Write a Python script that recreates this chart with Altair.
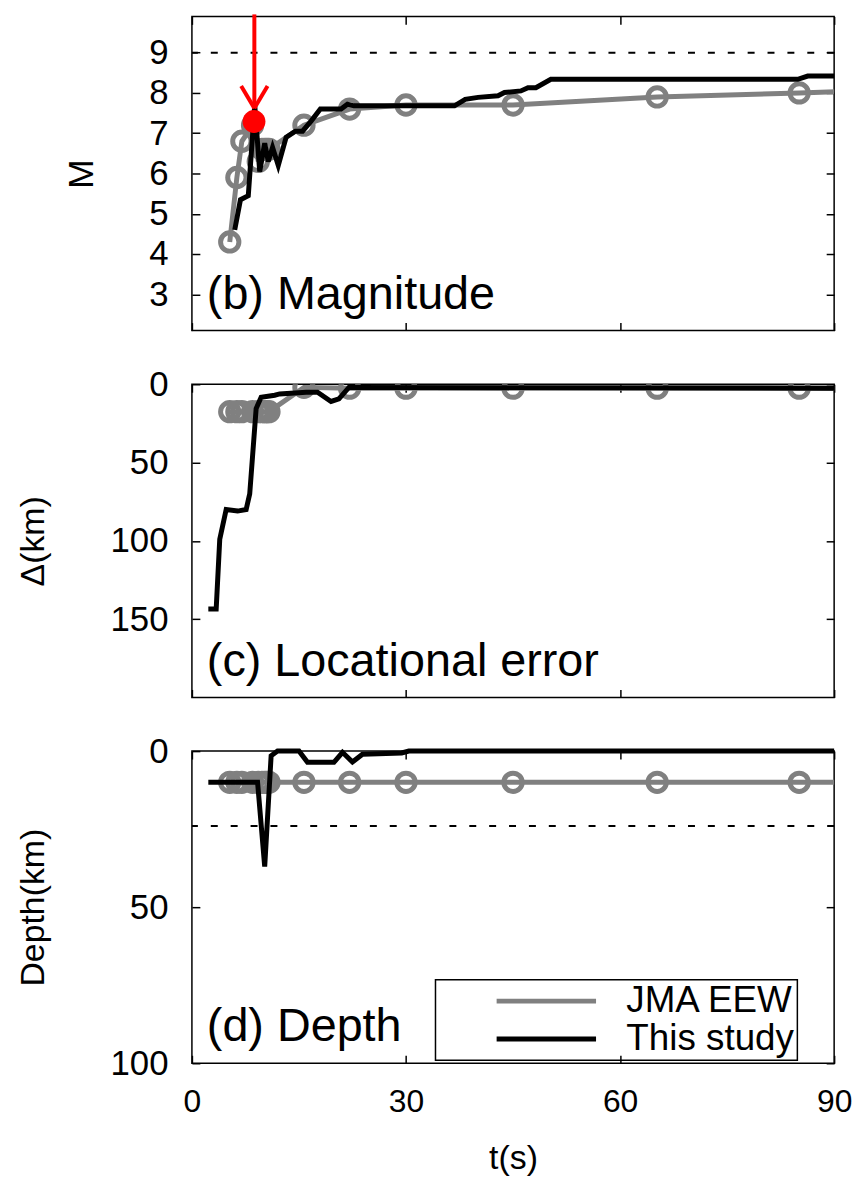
import altair as alt
import pandas as pd

# ---------------- data ----------------
series_names = ["JMA EEW", "This study"]
panel_labels = ["(b) Magnitude", "(c) Locational error", "(d) Depth"]

# JMA EEW (gray, circles)
jma_t = [5.3, 6.3, 7.0, 8.5, 9.3, 9.8, 10.2, 10.5, 10.8, 15.7, 22.1, 30.0, 45.0, 65.2, 85.1, 102.0]
jma_mag = [4.3, 5.9, 6.8, 7.2, 6.3, 6.6, 6.6, 6.6, 6.6, 7.2, 7.6, 7.7, 7.7, 7.9, 8.0, 8.1]
jma_loc = [17.5, 17.5, 17.5, 17.5, 17.5, 17.5, 17.5, 17.5, 17.5, 2.0, 2.5, 2.5, 2.5, 2.5, 2.5, 2.5]
jma_dep = [10, 10, 10, 10, 10, 10, 10, 10, 10, 10, 10, 10, 10, 10, 10, 10]

# This study (black line)
mag_t = [6.0, 6.8, 7.9, 8.8, 9.5, 10.2, 10.7, 11.3, 12.1, 13.2, 14.5, 15.5, 16.7, 18.0, 20.9,
         21.8, 22.7, 36.8, 38.3, 40.1, 42.9, 43.8, 46.1, 47.1, 48.2, 50.3, 84.9, 86.3, 90.0]
mag_v = [4.6, 5.35, 5.45, 7.7, 6.05, 6.75, 6.3, 6.65, 6.2, 6.9, 7.05, 7.05, 7.3, 7.6, 7.6,
         7.72, 7.68, 7.68, 7.84, 7.89, 7.93, 8.01, 8.05, 8.13, 8.13, 8.34, 8.34, 8.42, 8.42]
loc_t = [2.3, 3.4, 3.9, 4.8, 6.4, 7.6, 8.1, 9.0, 9.7, 11.6, 12.3, 16.0, 17.6, 19.5, 20.6, 22.0, 90.0]
loc_v = [143.5, 143.5, 99, 80, 81, 80, 70, 15.5, 8.3, 7.0, 6.2, 5.1, 5.1, 11, 9.3, 2.0, 2.5]
dep_t = [2.3, 9.2, 10.2, 11.1, 12.0, 15.0, 16.2, 19.9, 21.1, 22.5, 23.9, 29.4, 30.4, 90.0]
dep_v = [10, 10, 37, 1.5, 0, 0, 3.6, 3.6, 0.4, 3.5, 1.0, 0.6, 0.0, 0.0]

# reference (dashed) levels
mag_ref = [9]
dep_ref = [24]

# red marker + arrow (magnitude panel)
red_t = [8.7]
red_m = [7.29]
arrow_x = [8.75, 6.9, 10.6]
arrow_y = [9.95, 8.17, 8.17]
arrow_x2 = [8.75, 8.75, 8.75]
arrow_y2 = [7.62, 7.62, 7.62]

# ticks
x_ticks = [0, 30, 60, 90]
mag_ticks = [3, 4, 5, 6, 7, 8, 9]
loc_ticks = [0, 50, 100, 150]
dep_ticks = [0, 50, 100]

# ---------------- style ----------------
GRAY = "#808080"
FONT = "Liberation Sans"
NARROW = "Liberation Sans Narrow, Liberation Sans, Arial, sans-serif"
W = 646
LW = 5

xs = alt.Scale(domain=[0, 90], nice=False, zero=False)


def x_axis_main(show):
    kw = dict(orient="bottom", offset=-8, tickSize=8, tickWidth=1.5, tickColor="black",
              domain=False, grid=False, values=x_ticks)
    if show:
        kw.update(labelFontSize=32, labelFont=NARROW, labelColor="black", labelPadding=24,
                  labelFlush=False, title="t(s)", titleFont=NARROW, titleFontSize=34,
                  titleFontWeight="normal", titleColor="black", titleBaseline="alphabetic",
                  titleY=114)
    else:
        kw.update(labels=False, title=None)
    return alt.Axis(**kw)


def x_axis_mirror():
    return alt.Axis(orient="top", offset=-8, tickSize=8, tickWidth=1.5, tickColor="black",
                    domain=False, grid=False, values=x_ticks, labels=False, title=None)


def y_axis_main(title, ticks, title_x, title_size):
    return alt.Axis(orient="left", offset=-8, tickSize=8, tickWidth=1.5, tickColor="black",
                    domain=False, grid=False, values=ticks, labelFontSize=35, labelFont=FONT,
                    labelColor="black", labelPadding=24, title=title, titleFont=NARROW,
                    titleFontSize=title_size, titleFontWeight="normal", titleColor="black",
                    titleBaseline="alphabetic", titleAngle=270, titleX=title_x)


def y_axis_mirror(ticks):
    return alt.Axis(orient="right", offset=-8, tickSize=8, tickWidth=1.5, tickColor="black",
                    domain=False, grid=False, values=ticks, labels=False, title=None)


def color_enc(legend):
    sc = alt.Scale(domain=series_names, range=[GRAY, "black"])
    if legend is None:
        return alt.Color("series:N", scale=sc, legend=None)
    return alt.Color("series:N", scale=sc, legend=legend)


def panel(h, ys, ticks, ytitle, title_x, title_size, jma_vals, st_t, st_v, label,
          ref=None, legend=None, bottom=False, extra=None):
    jdf = pd.DataFrame({"t": jma_t, "v": jma_vals, "series": series_names[0]})
    sdf = pd.DataFrame({"t": st_t, "v": st_v, "series": series_names[1]})
    layers = []
    if ref is not None:
        layers.append(
            alt.Chart(pd.DataFrame({"v": ref})).mark_rule(
                strokeDash=[7, 13], strokeWidth=2, color="black"
            ).encode(y=alt.Y("v:Q", scale=ys, axis=None))
        )
    layers.append(
        alt.Chart(jdf).mark_line(strokeWidth=LW, clip=True).encode(
            x=alt.X("t:Q", scale=xs, axis=x_axis_main(bottom)),
            y=alt.Y("v:Q", scale=ys, axis=y_axis_main(ytitle, ticks, title_x, title_size)),
            color=color_enc(legend),
        )
    )
    layers.append(
        alt.Chart(jdf).mark_point(shape="circle", size=340, strokeWidth=5, filled=False,
                                  color=GRAY, opacity=1, clip=True).encode(
            x=alt.X("t:Q", scale=xs, axis=x_axis_mirror()),
            y=alt.Y("v:Q", scale=ys, axis=y_axis_mirror(ticks)),
        )
    )
    layers.append(
        alt.Chart(sdf).mark_line(strokeWidth=LW).encode(
            x=alt.X("t:Q", scale=xs, axis=None),
            y=alt.Y("v:Q", scale=ys, axis=None),
            color=color_enc(legend),
        )
    )
    layers.append(
        alt.Chart(pd.DataFrame({"label": [label]})).mark_text(
            align="left", baseline="alphabetic", fontSize=47, font=FONT, color="black"
        ).encode(text="label:N", x=alt.value(15), y=alt.value(h - 22))
    )
    if extra:
        layers.extend(extra(ys))
    return alt.layer(*layers).resolve_axis(x="independent", y="independent").properties(
        width=W, height=h)


def red_marker(ys):
    adf = pd.DataFrame({"x": arrow_x, "y": arrow_y, "x2": arrow_x2, "y2": arrow_y2})
    ddf = pd.DataFrame({"t": red_t, "v": red_m})
    arrow = alt.Chart(adf).mark_rule(color="#ff0000", strokeWidth=4, clip=False).encode(
        x=alt.X("x:Q", scale=xs, axis=None), y=alt.Y("y:Q", scale=ys, axis=None),
        x2="x2:Q", y2="y2:Q")
    dot = alt.Chart(ddf).mark_point(shape="circle", size=530, filled=True, color="#ff0000",
                                    opacity=1).encode(
        x=alt.X("t:Q", scale=xs, axis=None), y=alt.Y("v:Q", scale=ys, axis=None))
    return [arrow, dot]


legend = alt.Legend(
    title=None, orient="none", legendX=245, legendY=230, symbolType="stroke",
    symbolSize=10000, symbolStrokeWidth=5, labelFontSize=37, labelFont=FONT,
    labelColor="black", labelAlign="left", labelOffset=28, symbolOffset=56,
    padding=3, strokeColor="black", clipHeight=37, rowPadding=0, labelLimit=400,
)

p1 = panel(316, alt.Scale(domain=[2.1, 9.9], nice=False, zero=False), mag_ticks, "M", -108, 36,
           jma_mag, mag_t, mag_v, panel_labels[0], ref=mag_ref, extra=red_marker)
p2 = panel(315, alt.Scale(domain=[0, 200], reverse=True, nice=False, zero=False), loc_ticks,
           "Δ(km)", -157, 34, jma_loc, loc_t, loc_v, panel_labels[1])
p3 = panel(314, alt.Scale(domain=[0, 100], reverse=True, nice=False, zero=False), dep_ticks,
           "Depth(km)", -157, 34, jma_dep, dep_t, dep_v, panel_labels[2], ref=dep_ref,
           legend=legend, bottom=True)

chart = alt.vconcat(p1, p2, p3, spacing=54, bounds="flush").resolve_legend(
    color="independent"
).properties(
    padding={"left": 8, "top": 0, "right": 5, "bottom": 5}
).configure_view(
    stroke="black", strokeWidth=1.5
).configure_legend(
    strokeWidth=1.5
)

chart.save("out.html", embed_options={"renderer": "svg", "actions": False})
